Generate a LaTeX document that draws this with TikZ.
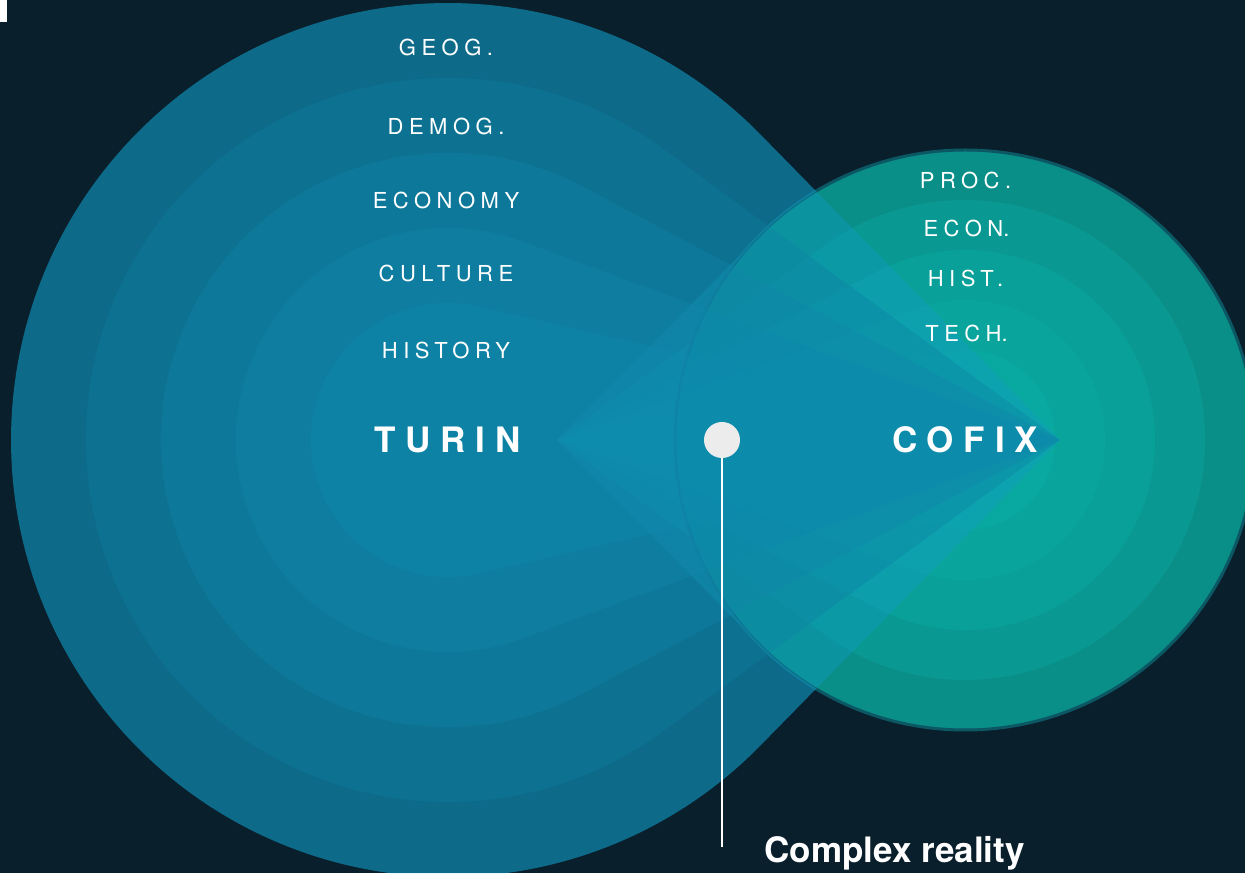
\documentclass[tikz,border=0pt]{standalone}
\usepackage{fontspec}
\setmainfont{TeX Gyre Heros}
\newfontfamily\lblfont[LetterSpace=25]{TeX Gyre Heros}
\newfontfamily\bigfont[LetterSpace=28]{TeX Gyre Heros}
\definecolor{bgc}{RGB}{9,31,43}
\definecolor{bA}{RGB}{17,156,201}
\definecolor{bB}{RGB}{14,129,164}
\definecolor{bC}{RGB}{17,134,170}
\definecolor{bD}{RGB}{15,135,172}
\definecolor{bE}{RGB}{15,140,175}
\definecolor{gA}{RGB}{12,160,150}
\definecolor{gDisk}{RGB}{11,163,153}
\definecolor{gB}{RGB}{11,160,153}
\definecolor{gC}{RGB}{9,166,158}
\definecolor{gD}{RGB}{10,169,161}
\definecolor{gE}{RGB}{10,171,163}
\definecolor{gLine}{RGB}{11,88,100}
\definecolor{dotc}{RGB}{236,236,236}
\begin{document}
\begin{tikzpicture}[x=1pt,y=1pt,
  lbl/.style={text=white, font=\lblfont\fontsize{22}{22}\selectfont, anchor=base},
  big/.style={text=white, font=\bigfont\bfseries\fontsize{35}{35}\selectfont, anchor=base},
  ]
\useasboundingbox (0,0) rectangle (1245,873);
\fill[bgc] (0,0) rectangle (1245,873);
\fill[white] (0,873) rectangle (7,851);
% green layers (tip at 557,433)
\foreach \r/\c/\o in {290/gA/0.5} {
  \pgfmathsetmacro\ang{180-acos(\r/408)}
  \pgfmathsetmacro\angb{-\ang}
  \fill[\c, fill opacity=\o] (557,433) -- ([shift={(965,433)}]\ang:\r) arc[start angle=\ang, end angle=\angb, radius=\r] -- cycle;
}
\fill[gDisk, fill opacity=0.7] (965,433) circle[radius=290];
\foreach \r/\c/\o in {240/gB/0.6, 190/gC/0.6, 140/gD/0.6, 90/gE/0.6} {
  \pgfmathsetmacro\ang{180-acos(\r/408)}
  \pgfmathsetmacro\angb{-\ang}
  \fill[\c, fill opacity=\o] (557,433) -- ([shift={(965,433)}]\ang:\r) arc[start angle=\ang, end angle=\angb, radius=\r] -- cycle;
}
\draw[gLine, line width=3pt] (965,433) circle[radius=290];
% blue layers (tip at 1060,433): full strength outside the green disk
\begin{scope}
  \clip (0,0) -- (1245,0) -- (1245,873) -- (0,873) -- cycle
        (1255,433) arc[start angle=0, end angle=-360, radius=290] -- cycle;
  \foreach \r/\c/\o in {437/bA/0.6, 362/bB/0.35, 287/bC/0.35, 212/bD/0.35, 137/bE/0.35} {
    \pgfmathsetmacro\ang{acos(\r/612)}
    \pgfmathsetmacro\angb{360-\ang}
    \fill[\c, fill opacity=\o] (1060,433) -- ([shift={(448,433)}]\ang:\r) arc[start angle=\ang, end angle=\angb, radius=\r] -- cycle;
  }
\end{scope}
% weaker inside the green disk
\begin{scope}
  \clip (965,433) circle[radius=290];
  \foreach \r/\c in {437/bA, 362/bB, 287/bC, 212/bD, 137/bE} {
    \pgfmathsetmacro\ang{acos(\r/612)}
    \pgfmathsetmacro\angb{360-\ang}
    \fill[\c, fill opacity=0.38] (1060,433) -- ([shift={(448,433)}]\ang:\r) arc[start angle=\ang, end angle=\angb, radius=\r] -- cycle;
  }
\end{scope}
% labels
\node[lbl] (geog) at (446,817) {GEOG.};
\node[lbl] (demog) at (446,738) {DEMOG.};
\node[lbl] (economy) at (446,664) {ECONOMY};
\node[lbl] (culture) at (446,591) {CULTURE};
\node[lbl] (history) at (446,514) {HISTORY};
\node[big] (turin) at (447.5,420.4) {TURIN};
\node[lbl] (proc) at (965.5,684) {PROC.};
\node[lbl] (econ) at (966.5,636) {ECON{\rmfamily.}};
\node[lbl] (hist) at (965.5,586) {HIST.};
\node[lbl] (tech) at (966.5,531) {TECH{\rmfamily.}};
\node[big] (cofix) at (965,420.4) {COFIX};
% marker
\coordinate (lineend) at (722,26);
\node[circle, fill=dotc, minimum size=36pt, inner sep=0pt] (dot) at (722,433) {};
\draw[white, line width=2pt] (dot.south) -- (lineend);
\node[anchor=base, text=white, font=\bfseries\fontsize{35}{35}\selectfont] (cr) at (894.5,11) {Complex reality};
\end{tikzpicture}
\end{document}
